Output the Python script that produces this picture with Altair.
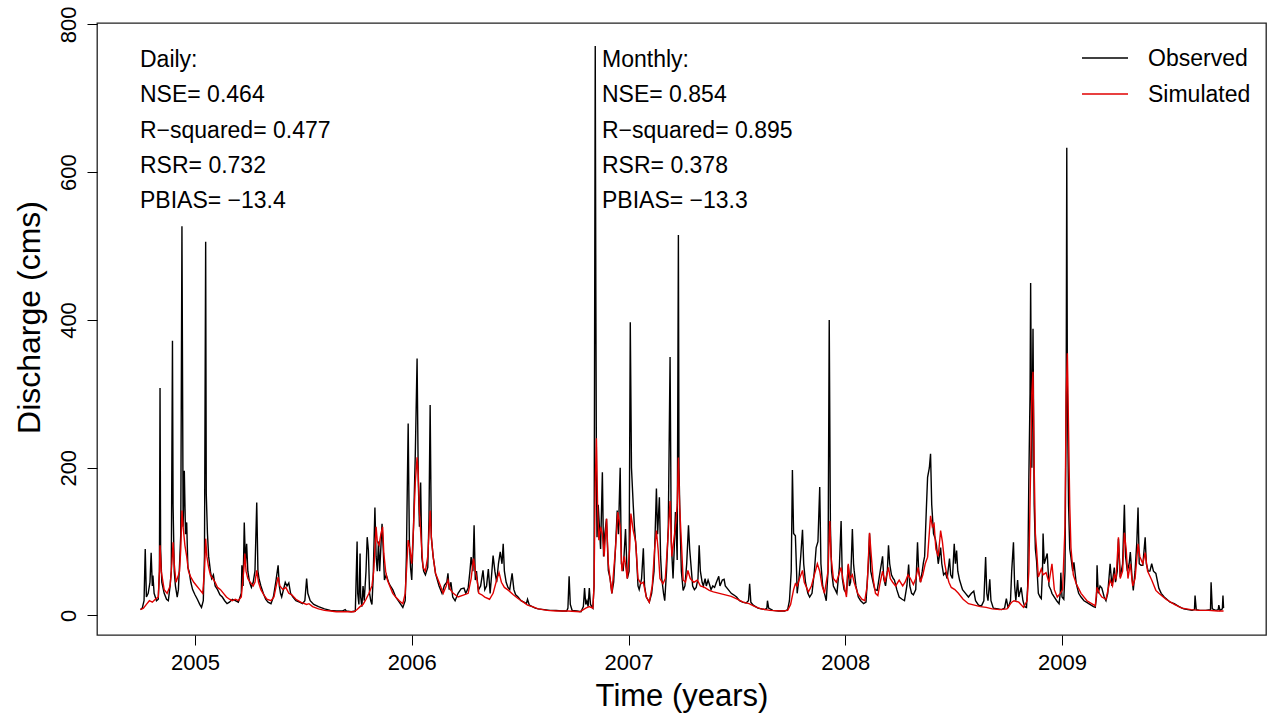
import altair as alt
import numpy as np
import pandas as pd

# ---- data: (days since 2004-10-01, discharge in cms) ----
observed = [
    (0, 8), (3, 10), (6, 20), (8, 90), (10, 25), (13, 30), (16, 45), (18, 85), (20, 40), (21, 54),
    (23, 30), (27, 20), (30, 22), (32, 60), (33, 308), (34, 90), (36, 45), (40, 30), (44, 22), (47, 20),
    (50, 40), (52, 60), (54, 372), (55, 150), (57, 60), (59, 40), (62, 25), (64, 35), (66, 70), (68, 110),
    (70, 527), (72, 120), (74, 196), (76, 110), (78, 126), (80, 65), (82, 60), (85, 45), (88, 35), (92, 28),
    (96, 22), (100, 15), (103, 11), (106, 20), (108, 80), (110, 506), (111, 165), (113, 111), (115, 80),
    (118, 60), (120, 50), (123, 55), (126, 40), (130, 35), (134, 28), (138, 25), (142, 20), (146, 16),
    (150, 18), (155, 22), (160, 20), (165, 18), (170, 30), (171, 68), (173, 40), (175, 126), (177, 70),
    (179, 97), (181, 60), (184, 45), (187, 38), (190, 45), (193, 60), (196, 153), (198, 60), (200, 49),
    (203, 40), (207, 30), (211, 22), (215, 18), (220, 16), (224, 25), (228, 45), (232, 68), (234, 40),
    (236, 30), (238, 25), (241, 35), (244, 45), (247, 40), (250, 44), (253, 30), (257, 25), (262, 20),
    (268, 18), (273, 16), (277, 20), (280, 50), (282, 30), (286, 20), (292, 15), (300, 12), (310, 9),
    (320, 7), (330, 6), (340, 6), (345, 8), (347, 6), (355, 5), (362, 6), (365, 100), (366, 30), (368, 15),
    (370, 84), (371, 25), (373, 12), (375, 40), (377, 20), (380, 60), (382, 106), (384, 88), (386, 30),
    (388, 20), (390, 15), (392, 50), (395, 146), (397, 80), (399, 60), (401, 100), (403, 60), (407, 124),
    (409, 90), (411, 48), (414, 55), (418, 45), (421, 40), (425, 35), (430, 25), (436, 18), (442, 11),
    (446, 20), (448, 80), (451, 260), (453, 100), (455, 65), (457, 48), (460, 120), (463, 219), (466, 348),
    (468, 183), (470, 120), (472, 180), (474, 79), (477, 60), (480, 55), (484, 65), (486, 130), (488, 285),
    (490, 106), (493, 80), (497, 57), (503, 40), (508, 30), (512, 41), (516, 45), (518, 57), (520, 35),
    (523, 45), (526, 25), (530, 20), (535, 30), (540, 36), (545, 37), (548, 30), (552, 37), (555, 60),
    (557, 79), (560, 60), (562, 122), (564, 48), (566, 60), (569, 34), (573, 40), (577, 61), (580, 35),
    (583, 40), (586, 63), (589, 30), (591, 50), (594, 81), (597, 60), (600, 45), (603, 70), (606, 86),
    (609, 70), (611, 97), (613, 60), (616, 45), (619, 38), (622, 35), (626, 57), (629, 35), (632, 28),
    (636, 25), (641, 20), (646, 18), (650, 16), (652, 22), (655, 14), (660, 12), (665, 10), (670, 9),
    (680, 8), (690, 7), (700, 7), (710, 6), (718, 6), (720, 10), (722, 53), (724, 15), (727, 7), (735, 6),
    (742, 5), (746, 12), (748, 37), (750, 15), (752, 20), (754, 12), (756, 37), (758, 15), (762, 10),
    (764, 40), (766, 771), (767, 441), (768, 190), (769, 106), (771, 150), (773, 120), (775, 90), (778, 194),
    (780, 80), (782, 110), (785, 131), (788, 61), (791, 50), (794, 30), (797, 45), (800, 90), (803, 142),
    (805, 110), (808, 200), (810, 70), (813, 60), (817, 117), (820, 50), (823, 60), (825, 397), (827, 200),
    (830, 149), (832, 120), (835, 88), (838, 40), (840, 35), (844, 50), (847, 91), (849, 40), (852, 25),
    (857, 18), (861, 30), (865, 60), (869, 172), (871, 110), (874, 160), (876, 80), (878, 50), (881, 30),
    (883, 20), (886, 60), (889, 120), (892, 350), (894, 100), (897, 50), (899, 90), (901, 140), (903, 100),
    (904, 75), (906, 515), (907, 200), (909, 120), (911, 60), (914, 34), (917, 40), (920, 70), (923, 122),
    (925, 90), (928, 60), (930, 40), (933, 35), (936, 38), (939, 50), (941, 95), (943, 60), (946, 45),
    (948, 40), (951, 50), (953, 40), (956, 48), (958, 43), (961, 35), (964, 40), (967, 38), (970, 45),
    (974, 53), (976, 40), (980, 48), (983, 49), (985, 40), (990, 35), (995, 30), (999, 28), (1004, 25),
    (1009, 20), (1014, 18), (1020, 17), (1024, 20), (1026, 43), (1028, 18), (1032, 14), (1040, 10),
    (1046, 9), (1052, 8), (1055, 10), (1056, 20), (1058, 10), (1065, 7), (1075, 6), (1085, 6), (1090, 8),
    (1093, 20), (1096, 60), (1098, 197), (1100, 111), (1103, 108), (1105, 60), (1106, 30), (1109, 50),
    (1112, 80), (1115, 116), (1117, 70), (1120, 45), (1124, 30), (1127, 25), (1131, 30), (1135, 60),
    (1138, 92), (1141, 100), (1144, 174), (1146, 70), (1149, 40), (1152, 30), (1155, 20), (1158, 60),
    (1160, 400), (1162, 120), (1164, 60), (1167, 40), (1170, 35), (1173, 30), (1177, 65), (1180, 128),
    (1182, 50), (1185, 35), (1189, 30), (1192, 68), (1194, 40), (1196, 45), (1199, 117), (1201, 70),
    (1202, 61), (1205, 40), (1209, 25), (1213, 20), (1218, 16), (1222, 18), (1226, 70), (1228, 111),
    (1230, 60), (1234, 45), (1237, 35), (1241, 34), (1244, 50), (1246, 60), (1250, 80), (1252, 50),
    (1255, 40), (1258, 60), (1260, 95), (1262, 70), (1265, 55), (1268, 50), (1270, 48), (1274, 35),
    (1278, 25), (1283, 22), (1287, 20), (1291, 40), (1294, 69), (1296, 40), (1299, 30), (1302, 28),
    (1306, 35), (1309, 99), (1311, 60), (1314, 45), (1317, 60), (1319, 72), (1321, 80), (1324, 146),
    (1326, 187), (1329, 200), (1331, 219), (1333, 150), (1336, 111), (1339, 104), (1341, 95), (1344, 70),
    (1348, 92), (1350, 70), (1353, 55), (1356, 58), (1359, 50), (1363, 77), (1365, 55), (1368, 50),
    (1371, 97), (1373, 70), (1375, 88), (1377, 60), (1380, 48), (1385, 35), (1390, 30), (1395, 25),
    (1400, 30), (1404, 33), (1407, 20), (1412, 14), (1417, 13), (1421, 20), (1424, 79), (1426, 30),
    (1428, 20), (1431, 49), (1433, 20), (1437, 10), (1445, 9), (1451, 8), (1456, 10), (1459, 23),
    (1462, 10), (1466, 20), (1468, 60), (1471, 99), (1473, 40), (1475, 20), (1478, 48), (1480, 25),
    (1484, 38), (1487, 20), (1490, 12), (1493, 11), (1495, 40), (1497, 187), (1499, 300), (1500, 450),
    (1502, 200), (1504, 388), (1506, 150), (1508, 90), (1510, 74), (1513, 30), (1516, 25), (1518, 23),
    (1520, 60), (1521, 111), (1523, 70), (1528, 84), (1531, 40), (1534, 35), (1536, 30), (1540, 25),
    (1544, 20), (1548, 16), (1550, 30), (1551, 58), (1553, 25), (1556, 22), (1558, 60), (1560, 300),
    (1561, 633), (1562, 300), (1564, 150), (1566, 90), (1568, 79), (1571, 60), (1573, 72), (1577, 43),
    (1581, 30), (1585, 25), (1590, 20), (1594, 18), (1600, 15), (1606, 12), (1609, 11), (1611, 25),
    (1612, 68), (1614, 30), (1617, 40), (1620, 37), (1624, 25), (1627, 20), (1630, 30), (1634, 70),
    (1637, 40), (1641, 65), (1643, 45), (1646, 60), (1648, 104), (1651, 52), (1655, 70), (1658, 150),
    (1660, 80), (1663, 60), (1666, 70), (1668, 86), (1671, 50), (1673, 34), (1676, 60), (1679, 100),
    (1681, 146), (1683, 70), (1686, 68), (1689, 68), (1693, 106), (1695, 70), (1698, 60), (1701, 60),
    (1704, 70), (1707, 60), (1711, 57), (1714, 45), (1716, 37), (1720, 30), (1725, 25), (1728, 23),
    (1735, 18), (1742, 16), (1750, 12), (1758, 9), (1765, 8), (1772, 7), (1776, 8), (1777, 27), (1779, 8),
    (1785, 7), (1795, 7), (1803, 8), (1804, 45), (1806, 9), (1812, 7), (1816, 8), (1817, 14), (1819, 7),
    (1823, 9), (1824, 27), (1825, 10),
]

simulated = [
    (0, 8), (5, 10), (10, 15), (15, 20), (20, 18), (25, 22), (30, 25), (32, 60), (33, 95), (35, 60),
    (40, 35), (45, 30), (50, 40), (53, 70), (55, 99), (57, 70), (60, 45), (63, 52), (66, 60), (68, 90),
    (70, 142), (72, 120), (75, 95), (78, 80), (81, 60), (85, 52), (90, 45), (95, 40), (100, 35), (105, 30),
    (108, 60), (110, 104), (112, 80), (115, 65), (118, 55), (122, 50), (126, 45), (130, 38), (135, 35),
    (140, 30), (145, 25), (150, 22), (155, 20), (160, 22), (165, 20), (170, 25), (174, 60), (176, 84),
    (178, 60), (181, 50), (185, 45), (190, 40), (193, 45), (196, 61), (199, 45), (203, 35), (208, 28),
    (213, 22), (220, 20), (225, 25), (230, 45), (232, 52), (235, 40), (240, 35), (245, 38), (250, 30),
    (255, 28), (262, 22), (270, 18), (280, 15), (284, 16), (290, 12), (300, 9), (310, 7), (320, 6),
    (330, 5), (345, 5), (360, 5), (365, 8), (370, 12), (375, 15), (380, 22), (385, 30), (390, 40),
    (393, 60), (397, 120), (399, 100), (402, 95), (405, 110), (408, 120), (410, 84), (413, 60), (416, 48),
    (420, 40), (425, 30), (430, 25), (436, 20), (442, 16), (446, 30), (451, 102), (454, 90), (457, 70),
    (460, 120), (463, 180), (466, 214), (468, 190), (470, 140), (473, 100), (476, 65), (480, 60), (484, 80),
    (488, 142), (490, 106), (493, 80), (497, 57), (503, 45), (510, 30), (515, 40), (518, 48), (522, 35),
    (527, 30), (535, 25), (545, 28), (552, 30), (557, 50), (561, 77), (564, 60), (567, 48), (570, 30),
    (575, 28), (580, 25), (588, 22), (594, 30), (600, 48), (604, 58), (608, 45), (613, 38), (620, 34),
    (628, 28), (636, 23), (645, 18), (652, 14), (660, 12), (670, 9), (685, 7), (700, 6), (720, 6),
    (740, 5), (750, 10), (756, 12), (762, 10), (764, 40), (766, 180), (768, 240), (770, 146), (772, 102),
    (775, 120), (778, 110), (781, 80), (785, 131), (788, 70), (791, 50), (794, 30), (800, 90), (804, 140),
    (808, 120), (811, 60), (815, 80), (820, 50), (824, 90), (826, 138), (830, 115), (834, 100), (838, 50),
    (843, 43), (847, 45), (852, 25), (857, 18), (862, 40), (866, 90), (869, 115), (872, 88), (875, 50),
    (880, 43), (884, 50), (888, 100), (892, 155), (895, 80), (898, 100), (901, 120), (904, 150), (906, 214),
    (908, 150), (911, 100), (914, 48), (918, 45), (922, 61), (926, 50), (932, 45), (938, 48), (943, 40),
    (950, 38), (958, 34), (965, 32), (975, 30), (985, 28), (995, 26), (1005, 22), (1015, 18), (1025, 16),
    (1035, 12), (1045, 9), (1060, 7), (1080, 6), (1090, 7), (1095, 15), (1100, 35), (1103, 43), (1106, 40),
    (1110, 50), (1115, 61), (1118, 45), (1125, 32), (1130, 40), (1135, 55), (1140, 70), (1144, 60),
    (1148, 40), (1152, 30), (1158, 60), (1161, 128), (1163, 80), (1167, 50), (1172, 45), (1177, 57),
    (1180, 65), (1184, 45), (1189, 25), (1192, 70), (1195, 50), (1199, 55), (1202, 45), (1208, 30),
    (1215, 22), (1220, 20), (1224, 40), (1228, 112), (1231, 80), (1234, 50), (1238, 30), (1242, 27),
    (1246, 45), (1250, 60), (1254, 45), (1260, 65), (1263, 50), (1267, 45), (1272, 40), (1278, 48),
    (1284, 40), (1288, 45), (1293, 55), (1297, 50), (1302, 42), (1306, 50), (1310, 65), (1314, 45),
    (1318, 55), (1322, 70), (1326, 79), (1331, 135), (1334, 120), (1337, 124), (1340, 90), (1344, 80),
    (1348, 115), (1351, 100), (1355, 70), (1358, 57), (1362, 45), (1366, 38), (1372, 35), (1378, 30),
    (1386, 22), (1395, 16), (1405, 14), (1415, 12), (1425, 11), (1435, 9), (1448, 8), (1460, 9),
    (1468, 18), (1472, 20), (1480, 18), (1488, 11), (1494, 20), (1497, 60), (1500, 200), (1502, 300),
    (1504, 330), (1506, 200), (1508, 111), (1510, 90), (1513, 52), (1518, 63), (1521, 55), (1526, 58),
    (1531, 45), (1536, 70), (1540, 35), (1545, 25), (1550, 30), (1554, 35), (1558, 120), (1560, 300),
    (1562, 355), (1564, 250), (1566, 150), (1568, 92), (1572, 55), (1577, 43), (1585, 30), (1595, 20),
    (1605, 15), (1609, 13), (1612, 38), (1616, 30), (1620, 25), (1627, 22), (1634, 48), (1638, 40),
    (1641, 55), (1644, 50), (1648, 106), (1651, 50), (1655, 60), (1658, 112), (1661, 90), (1664, 50),
    (1668, 70), (1672, 40), (1676, 50), (1681, 97), (1684, 80), (1689, 70), (1693, 85), (1697, 60),
    (1704, 48), (1711, 34), (1716, 30), (1728, 22), (1742, 15), (1755, 10), (1770, 8), (1785, 7),
    (1800, 7), (1815, 6), (1825, 6),
]

year_ticks = [2005, 2006, 2007, 2008, 2009]
q_ticks = [0, 200, 400, 600, 800]

daily_stats = ["Daily:", "NSE= 0.464", "R\u2212squared= 0.477", "RSR= 0.732", "PBIAS= \u221213.4"]
monthly_stats = ["Monthly:", "NSE= 0.854", "R\u2212squared= 0.895", "RSR= 0.378", "PBIAS= \u221213.3"]
series_names = ["Observed", "Simulated"]
series_colors = ["#000000", "#e00000"]

START = pd.Timestamp("2004-10-01")


def to_frame(pairs, name):
    d = pd.DataFrame(pairs, columns=["day", "q"])
    dates = START + pd.to_timedelta(d["day"], unit="D")
    days_in_year = np.where(dates.dt.is_leap_year, 366, 365)
    d["year"] = dates.dt.year + (dates.dt.dayofyear - 1) / days_in_year
    d["series"] = name
    return d


obs_df = to_frame(observed, series_names[0])
sim_df = to_frame(simulated, series_names[1])

FONT = "Liberation Sans"

x_enc = alt.X(
    "year:Q",
    scale=alt.Scale(domain=[2004.548, 2009.941], nice=False, zero=False),
    axis=alt.Axis(
        values=year_ticks, format="d", title="Time (years)", grid=False, domain=False,
        tickSize=10, tickColor="black", labelColor="black", labelFontSize=22, labelFont=FONT,
        labelBaseline="alphabetic", labelPadding=24, labelFlush=False,
        titleFontSize=31, titleFont=FONT, titleFontWeight="normal", titleColor="black",
        titleBaseline="alphabetic", titleY=70,
    ),
)
y_enc = alt.Y(
    "q:Q",
    scale=alt.Scale(domain=[-26.4, 802], nice=False, zero=False),
    axis=alt.Axis(
        values=q_ticks, title="Discharge (cms)", grid=False, domain=False,
        tickSize=10, tickColor="black", labelColor="black", labelFontSize=22, labelFont=FONT,
        labelAngle=270, labelAlign="center", labelBaseline="alphabetic", labelPadding=12,
        labelFlush=False,
        titleFontSize=32, titleFont=FONT, titleFontWeight="normal", titleColor="black",
        titleAngle=270, titleBaseline="alphabetic", titleX=-58, titleY=294,
    ),
)

obs_line = alt.Chart(obs_df).mark_line(color=series_colors[0], strokeWidth=1.4).encode(
    x=x_enc, y=y_enc, order="day:Q"
)
sim_line = alt.Chart(sim_df).mark_line(color=series_colors[1], strokeWidth=1.4).encode(
    x="year:Q", y="q:Q", order="day:Q"
)

text_style = dict(align="left", baseline="alphabetic", fontSize=23, font=FONT, color="black",
                  lineBreak="\n", lineHeight=35.3)

daily_text = alt.Chart(pd.DataFrame({"t": ["\n".join(daily_stats)]})).mark_text(**text_style).encode(
    text="t:N", x=alt.value(43), y=alt.value(44)
)
monthly_text = alt.Chart(pd.DataFrame({"t": ["\n".join(monthly_stats)]})).mark_text(**text_style).encode(
    text="t:N", x=alt.value(505), y=alt.value(44)
)

legend_layers = []
for i, (name, col) in enumerate(zip(series_names, series_colors)):
    src = pd.DataFrame({"t": [name]})
    legend_layers.append(
        alt.Chart(src).mark_rule(color=col, strokeWidth=1.3).encode(
            x=alt.value(985), x2=alt.value(1031), y=alt.value(35 + 36 * i)
        )
    )
    legend_layers.append(
        alt.Chart(src).mark_text(align="left", baseline="alphabetic", fontSize=23, font=FONT,
                                 color="black").encode(
            text="t:N", x=alt.value(1051), y=alt.value(43 + 36 * i)
        )
    )

chart = alt.layer(obs_line, sim_line, daily_text, monthly_text, *legend_layers).properties(
    width=1169,
    height=612,
    padding={"left": 97, "top": 23, "right": 4, "bottom": 82},
    autosize=alt.AutoSizeParams(type="none"),
    background="white",
).configure_view(stroke="#222222", strokeWidth=1.3)

chart.save("out.html", embed_options={"renderer": "svg", "actions": False})
